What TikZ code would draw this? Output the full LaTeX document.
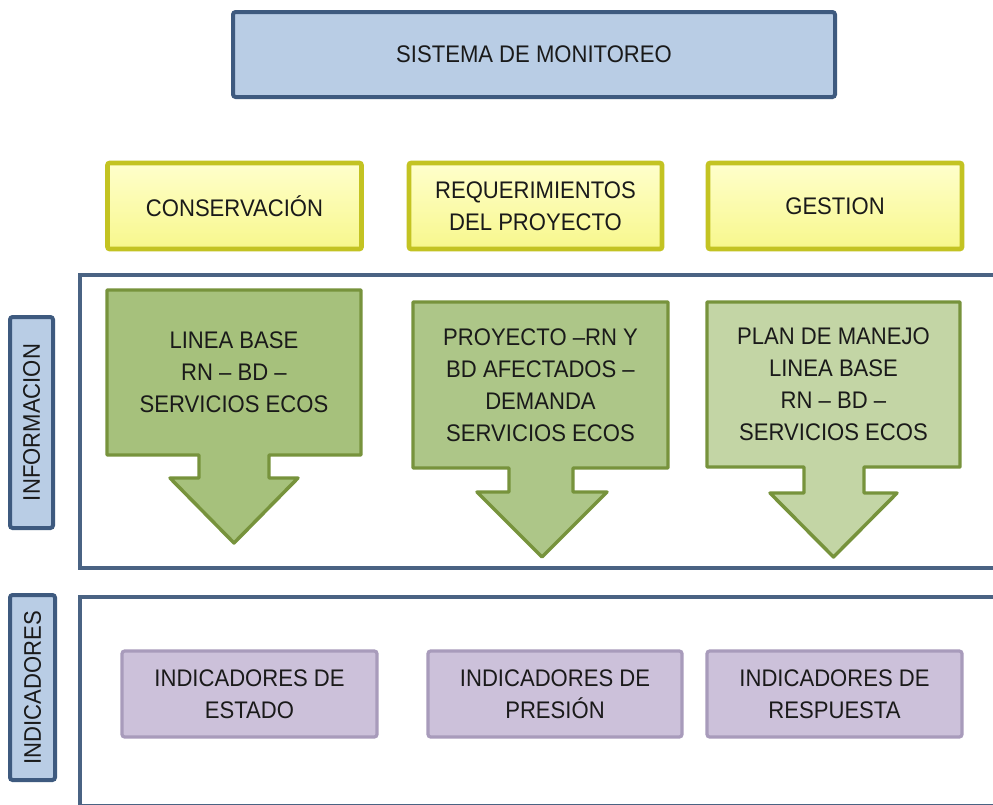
\documentclass[tikz,border=0pt]{standalone}
\usepackage{fontspec}
\setmainfont{Liberation Sans}[FakeStretch=0.92]

\definecolor{frameblue}{HTML}{4A6383}
\definecolor{titlefill}{HTML}{B9CDE5}
\definecolor{titleline}{HTML}{3E5A7F}
\definecolor{yelline}{HTML}{C3C322}
\definecolor{yeltop}{HTML}{FFFFCC}
\definecolor{yelbot}{HTML}{F7F78C}
\definecolor{grnline}{HTML}{77933C}
\definecolor{grnfillA}{HTML}{A6C17C}
\definecolor{grnfillB}{HTML}{ADC688}
\definecolor{grnfillC}{HTML}{C3D5A5}
\definecolor{purfill}{HTML}{CCC1DA}
\definecolor{purline}{HTML}{A89BBB}
\definecolor{ink}{HTML}{1A1A1A}

\tikzset{
  px/.style 2 args={minimum width=#1*0.75pt, minimum height=#2*0.75pt},
  txt/.style={font=\fontsize{18}{24}\selectfont, text=ink, align=center, inner sep=0pt},
  titlebox/.style={draw=titleline, line width=3pt, fill=titlefill, rounded corners=2pt, txt},
  sidebox/.style={draw=titleline, line width=3pt, fill=titlefill, rounded corners=2pt, txt},
  yelbox/.style={draw=yelline, line width=3.4pt, top color=yeltop, bottom color=yelbot, rounded corners=1.5pt, txt},
  frame/.style={draw=frameblue, line width=2.8pt},
  grnarrow/.style={draw=grnline, line width=2.6pt, line join=round},
  purbox/.style={draw=purline, line width=2.4pt, fill=purfill, rounded corners=2pt, txt},
}

\begin{document}
\begin{tikzpicture}[x=0.75pt, y=-0.75pt]
\useasboundingbox (0,0) rectangle (993,804);
\clip (0,0) rectangle (993,804);
\fill[white] (0,0) rectangle (993,804);

% title bar
\node[titlebox, px={602}{85}] (title) at (534,54.5) {SISTEMA DE MONITOREO};

% three yellow headings
\node[yelbox, px={254}{86}] (cons) at (234.5,206) {CONSERVACIÓN};
\node[yelbox, px={253}{86}] (req)  at (535.5,206) {REQUERIMIENTOS\\DEL PROYECTO};
\node[yelbox, px={254}{86}] (gest) at (835,206) {GESTION};

% band frames (open to the right)
\draw[frame] (1010,275) -- (80,275) -- (80,568) -- (1010,568);
\draw[frame] (1010,597) -- (80,597) -- (80,805.5) -- (1010,805.5);

% side labels
\node[sidebox, px={43}{211}] (infolab) at (31.5,422.5) {};
\node[txt, rotate=90] (infotxt) at (infolab.center) {INFORMACION};
\node[sidebox, px={45}{185}] (indlab) at (32.5,687.5) {};
\node[txt, rotate=90] (indtxt) at (indlab.center) {INDICADORES};

% green down arrows
\draw[grnarrow, fill=grnfillA]
  (107,290) -- (361,290) -- (361,455) -- (269,455) -- (269,478) -- (298,478)
  -- (234,543) -- (170,478) -- (199,478) -- (199,455) -- (107,455) -- cycle;
\node[txt] (linea) at (234,372.5) {LINEA BASE\\RN -- BD --\\SERVICIOS ECOS};

\draw[grnarrow, fill=grnfillB]
  (413,302) -- (668,302) -- (668,468) -- (573,468) -- (573,492) -- (607,492)
  -- (542,557) -- (477,492) -- (509,492) -- (509,468) -- (413,468) -- cycle;
\node[txt] (proy) at (540.5,385) {PROYECTO --RN Y\\BD AFECTADOS --\\DEMANDA\\SERVICIOS ECOS};

\draw[grnarrow, fill=grnfillC]
  (707,302) -- (960,302) -- (960,467) -- (864,467) -- (864,493) -- (897,493)
  -- (833.5,557) -- (770,493) -- (804,493) -- (804,467) -- (707,467) -- cycle;
\node[txt] (plan) at (833.5,384.5) {PLAN DE MANEJO\\LINEA BASE\\RN -- BD --\\SERVICIOS ECOS};

% indicator boxes
\node[purbox, px={255}{86}] (est)  at (249.5,694) {INDICADORES DE\\ESTADO};
\node[purbox, px={254}{86}] (pres) at (555,694) {INDICADORES DE\\PRESIÓN};
\node[purbox, px={255}{86}] (resp) at (834.5,694) {INDICADORES DE\\RESPUESTA};
\end{tikzpicture}
\end{document}
